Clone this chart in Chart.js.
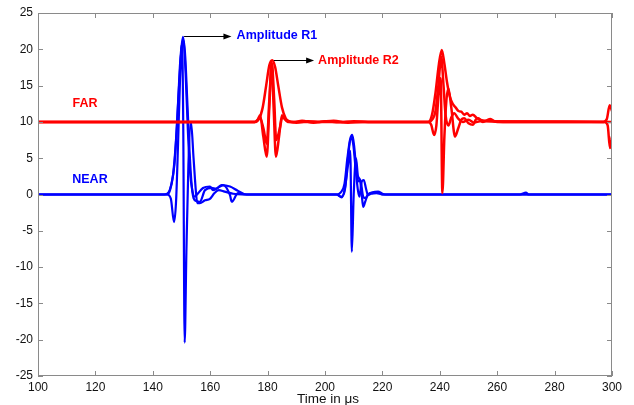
<!DOCTYPE html>
<html>
<head>
<meta charset="utf-8">
<script src="https://cdn.jsdelivr.net/npm/chart.js@4/dist/chart.umd.min.js"></script>
<style>
  html, body { margin: 0; padding: 0; background: #fff; }
  #wrap { width: 634px; height: 405px; }
</style>
</head>
<body>
<div id="wrap"><canvas id="waveChart" width="634" height="405"></canvas></div>
<script>
// axis ticks
const xTicks = [100, 120, 140, 160, 180, 200, 220, 240, 260, 280, 300];
const yTicks = [-25, -20, -15, -10, -5, 0, 5, 10, 15, 20, 25];

// FAR receiver (red), baseline offset 10 - [time, amplitude]
const far1 = [[100,10],[175.5,10],[177,10.4],[178.3,12],[179.5,15],[180.6,17.8],[181.6,18.5],[182.6,17.6],[183.7,15],[185,12],[186.3,10.5],[187.5,10.1],
  [189,10],[192,10.15],[196,9.9],[200,10.1],[205,9.95],[210,10.1],[215,10],[236,10],[237.3,11],[238.5,14],[239.7,18],[240.7,19.9],[241.6,18],
  [242.5,15.5],[243.5,13.5],[244.5,12.5],[245.5,12],[246.5,11.5],[247.5,11.4],[248.5,11],[249.5,11.2],[250.5,10.8],[251.5,11],[253,10.5],
  [255,10.2],[258,10.1],[260,10],[297,10],[298.2,10.4],[299.2,12.3],[300,11.5]];
const far2 = [[100,10],[175.5,10],[176.5,10.3],[177.4,10.9],[178.5,8],[179.7,5.2],[180.6,12],[181.4,18.3],[182.1,12],[182.9,5.2],[184,8],[185,10.9],
  [186,10.4],[187.5,10],[190,9.9],[194,10.1],[198,10],[203,10.15],[208,9.9],[213,10],[236,10],[237,9.6],[238,8.2],[238.8,9.5],[239.6,14],
  [240.3,16],[240.9,0.2],[241.6,8],[242.3,13],[243,14.6],[244,12],[245.3,8],[246.4,9.1],[247.5,10.3],[248.5,10.5],[250,9.8],[251.6,9.6],
  [252.5,10.3],[253.4,10.5],[255,10],[257.5,10.4],[259,10.1],[262,10],[297.5,10],[298.5,9.5],[299.3,6.4],[300,8]];
const far3 = [[100,10],[176,10],[177.3,10.6],[178.6,9],[179.7,7],[180.6,13],[181.5,18],[182.3,13],[183,7.5],[184.2,9],[185.2,10.7],[187,10],
  [236,10],[237.5,10.4],[238.5,11.5],[239.5,15],[240.5,19],[241.3,15],[242,11],[243,9.5],[244,10.6],[245,11.2],[246.5,10.4],[248,10],
  [250,10.3],[252,9.9],[254,10.1],[300,10]];

// NEAR receiver (blue)
const near1 = [[100,0],[144,0],[145.5,0.3],[146.5,1.5],[147.5,4],[148.5,10],[149.5,18],[150.5,21.7],[151.3,19],[152,13],[152.8,6],[153.5,1.5],
  [154.2,-0.5],[155.2,-0.9],[156.4,-1],[158.2,0.6],[160.5,0.9],[162,0.8],[164,1.3],[166.9,1.1],[169.7,0.5],[172.7,0],[204,0],[205.5,0.3],
  [206.8,1.5],[207.8,5],[208.7,7.5],[209.5,8.2],[210.2,6.5],[211,3],[211.7,1.8],[212.3,2],[213.3,-0.3],[214,-0.5],[215,0],[216.5,0.3],
  [218.5,0.4],[220,0.1],[221,0],[268,0],[270,0.25],[271,0],[300,0]];
const near2 = [[100,0],[145,0],[146.3,-0.6],[147.4,-3.8],[148.1,-1],[148.8,7],[149.5,16],[150.2,20.8],[150.6,10],[151.1,-20.4],[151.7,-8],
  [152.4,4],[153.3,10],[154.2,5],[155,0.5],[155.5,-1.2],[156.4,-1.2],[158.2,-0.8],[159.9,-0.6],[161.5,0.2],[163,0.6],[165,0.4],[168,0.1],
  [171,0],[204,0],[205.8,-0.4],[207,1],[208,4],[208.8,6],[209.35,-7.9],[210,0],[210.8,5],[211.5,2.5],[212.2,2],[212.8,0],[213.3,-1.7],
  [214,-1],[215,0],[216.5,0.2],[218.5,0.3],[220,0],[300,0]];
const near3 = [[100,0],[145,0],[146,0.6],[147,2.5],[148,7],[149,14],[150,20],[150.6,21.3],[151.4,17],[152.2,9],[153,3],[153.8,0.5],[154.6,-0.3],
  [155.4,0],[157.5,0.9],[159.9,1.1],[161,0.6],[163.4,1.1],[164.5,1.3],[166.9,-0.1],[167.5,-1],[169.7,0.2],[172,0],[204,0],[205.8,-0.3],
  [207,0.8],[208,5],[209,7.8],[209.8,7],[210.8,3],[211.5,0.5],[212,-0.3],[212.8,1.8],[213.5,2],[214.3,0.8],[215,-0.1],[216,0.1],[218,0.2],
  [220,0],[300,0]];

// text labels and arrows (data coords)
const labelTexts = ['Amplitude R1', 'Amplitude R2', 'FAR', 'NEAR'];
const labelX = [169.2, 197.6, 116.4, 118.1];
const labelY = [21.9, 18.5, 12.5, 2.0];
const labelColors = ['#0000ff', '#ff0000', '#ff0000', '#0000ff'];
const arrowFrom = [[150.9, 21.9], [182.2, 18.5]];
const arrowTo = [[167.4, 21.9], [196.2, 18.5]];

const toPts = arr => arr.map(p => ({ x: p[0], y: p[1] }));

function traceSet(arr, color, width) {
    return {
        data: toPts(arr),
        borderColor: color,
        borderWidth: width,
        pointRadius: 0,
        fill: false,
        cubicInterpolationMode: 'monotone'
    };
}

// frame, inward ticks, annotations, x title
const decorPlugin = {
    id: 'decor',
    afterDraw(chart) {
        const ctx = chart.ctx;
        const a = chart.chartArea;
        const xs = chart.scales.x, ys = chart.scales.y;
        ctx.save();
        ctx.strokeStyle = '#8a8a8a';
        ctx.lineWidth = 1;
        ctx.strokeRect(a.left + 0.5, a.top + 0.5, a.right - a.left - 1, a.bottom - a.top - 1);
        ctx.beginPath();
        xTicks.forEach(v => {
            const px = Math.round(xs.getPixelForValue(v)) + 0.5;
            ctx.moveTo(px, a.bottom); ctx.lineTo(px, a.bottom - 5);
            ctx.moveTo(px, a.top); ctx.lineTo(px, a.top + 5);
        });
        yTicks.forEach(v => {
            const py = Math.round(ys.getPixelForValue(v)) + 0.5;
            ctx.moveTo(a.left, py); ctx.lineTo(a.left + 5, py);
            ctx.moveTo(a.right, py); ctx.lineTo(a.right - 5, py);
        });
        ctx.stroke();

        // arrows
        ctx.strokeStyle = '#000';
        ctx.fillStyle = '#000';
        arrowFrom.forEach((f, i) => {
            const x1 = xs.getPixelForValue(f[0]), y1 = Math.round(ys.getPixelForValue(f[1])) + 0.5;
            const x2 = xs.getPixelForValue(arrowTo[i][0]);
            ctx.beginPath();
            ctx.moveTo(x1, y1); ctx.lineTo(x2 - 6, y1);
            ctx.stroke();
            ctx.beginPath();
            ctx.moveTo(x2, y1); ctx.lineTo(x2 - 8, y1 - 3); ctx.lineTo(x2 - 8, y1 + 3);
            ctx.closePath();
            ctx.fill();
        });

        ctx.font = 'bold 12.5px "Liberation Sans", Arial, sans-serif';
        ctx.textBaseline = 'middle';
        labelTexts.forEach((t, i) => {
            ctx.fillStyle = labelColors[i];
            ctx.textAlign = i < 2 ? 'left' : 'center';
            ctx.fillText(t, xs.getPixelForValue(labelX[i]), ys.getPixelForValue(labelY[i]));
        });

        ctx.fillStyle = '#111';
        ctx.font = '13.5px "Liberation Sans", Arial, sans-serif';
        ctx.textAlign = 'center';
        ctx.fillText('Time in μs', 328, 399);
        ctx.restore();
    }
};

new Chart(document.getElementById('waveChart'), {
    type: 'line',
    data: {
        datasets: [
            traceSet(far1, '#ff0000', 2.5),
            traceSet(far2, '#ff0000', 2.5),
            traceSet(far3, '#ff0000', 2.5),
            traceSet(near1, '#0000ff', 2.2),
            traceSet(near2, '#0000ff', 2.2),
            traceSet(near3, '#0000ff', 2.2)
        ]
    },
    options: {
        responsive: false,
        animation: false,
        layout: { padding: { top: 13, right: 22, left: 0, bottom: 0 } },
        plugins: { legend: { display: false }, tooltip: { enabled: false } },
        scales: {
            x: {
                type: 'linear',
                min: 100, max: 300,
                afterBuildTicks: s => { s.ticks = xTicks.map(v => ({ value: v })); },
                afterFit: s => { s.height = 29; },
                grid: { display: false, drawTicks: false },
                border: { display: false },
                ticks: { padding: 4, color: '#111', maxRotation: 0, font: { size: 12, family: '"Liberation Sans", Arial, sans-serif' } }
            },
            y: {
                type: 'linear',
                min: -25, max: 25,
                afterBuildTicks: s => { s.ticks = yTicks.map(v => ({ value: v })); },
                afterFit: s => { s.width = 38; },
                grid: { display: false, drawTicks: false },
                border: { display: false },
                ticks: { padding: 5, color: '#111', font: { size: 12, family: '"Liberation Sans", Arial, sans-serif' } }
            }
        }
    },
    plugins: [decorPlugin]
});
</script>
</body>
</html>
